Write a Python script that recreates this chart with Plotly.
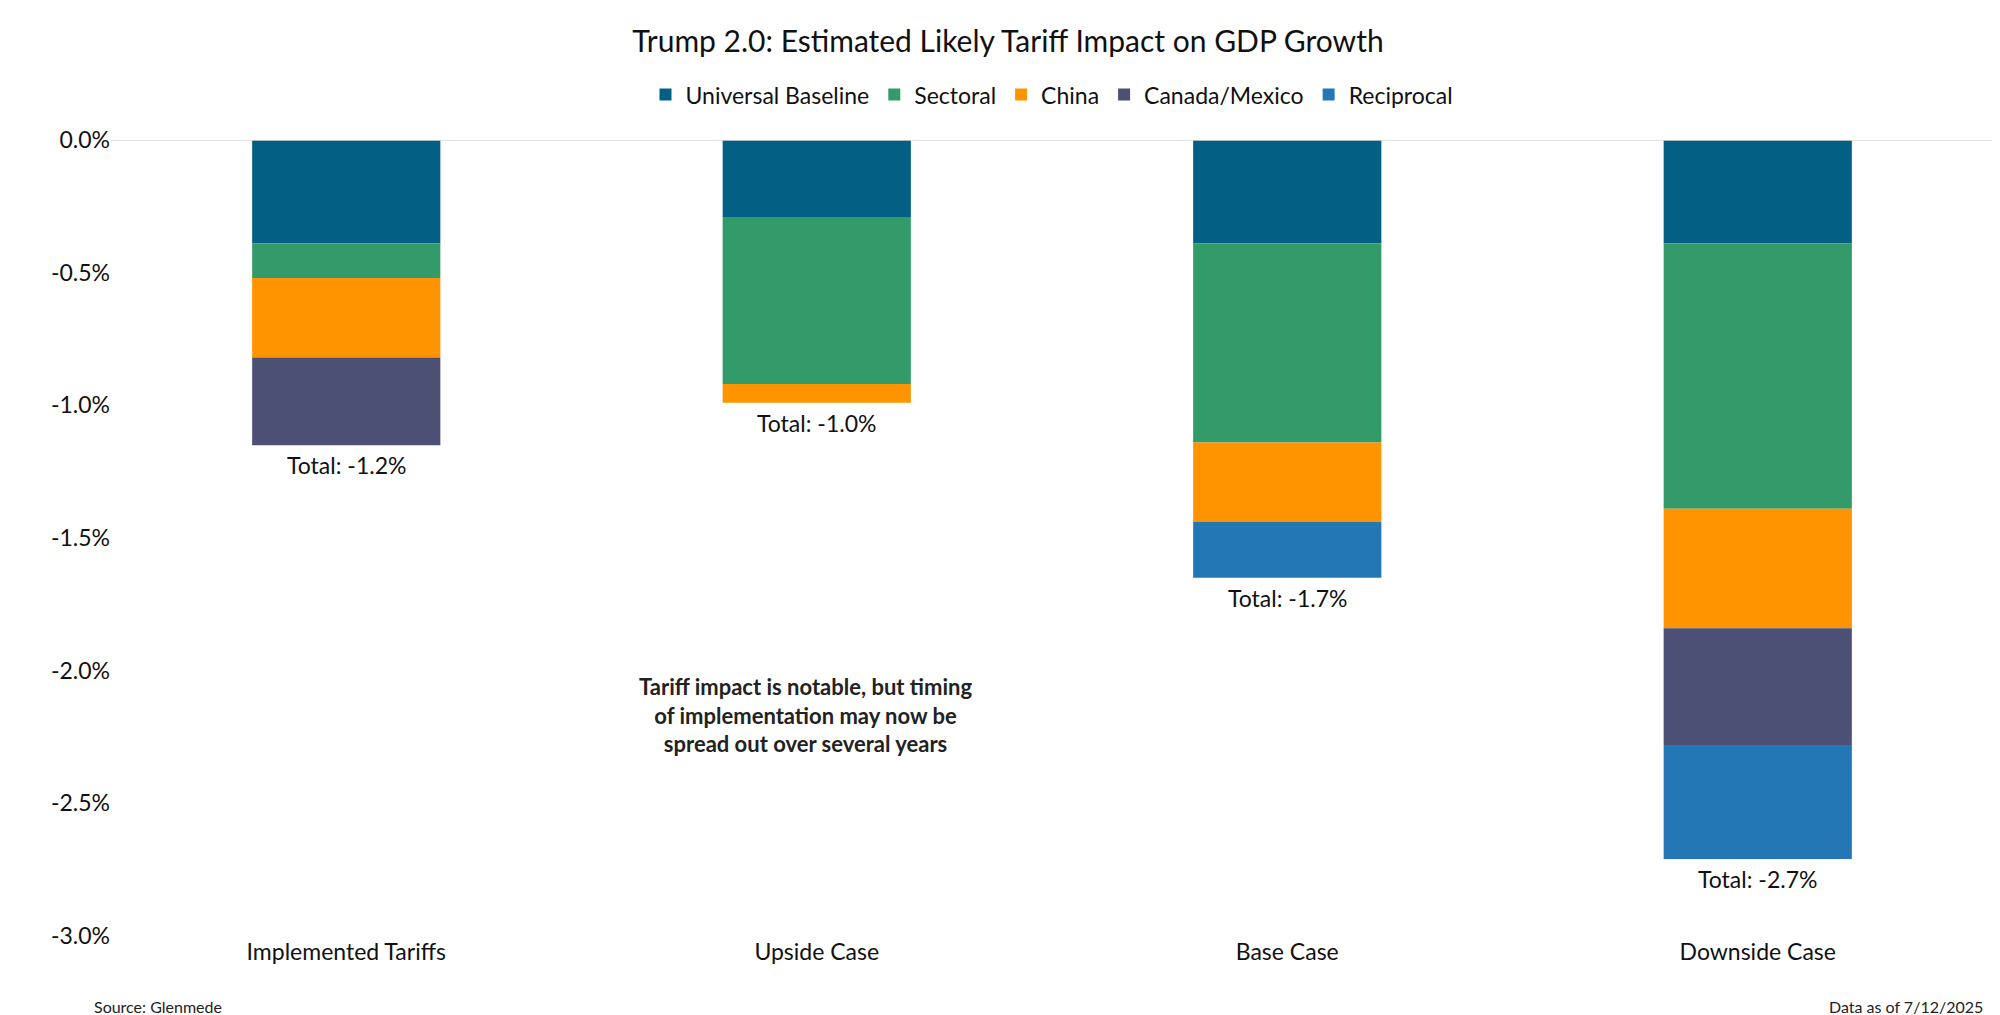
import plotly.graph_objects as go

cases = ["Implemented Tariffs", "Upside Case", "Base Case", "Downside Case"]
universal = [-0.39, -0.29, -0.39, -0.39]
sectoral = [-0.13, -0.63, -0.75, -1.00]
china = [-0.30, -0.07, -0.30, -0.45]
can_mex = [-0.33, 0.0, 0.0, -0.44]
reciprocal = [0.0, 0.0, -0.21, -0.43]
totals = [-1.2, -1.0, -1.7, -2.7]
y_ticks = [0.0, -0.5, -1.0, -1.5, -2.0, -2.5, -3.0]

series = [
    ("Universal Baseline", universal, "#045f85"),
    ("Sectoral", sectoral, "#339b69"),
    ("China", china, "#ff9300"),
    ("Canada/Mexico", can_mex, "#4d5075"),
    ("Reciprocal", reciprocal, "#2477b5"),
]

fig = go.Figure()
for name, vals, col in series:
    fig.add_trace(go.Bar(x=cases, y=vals, name=name, marker_color=col,
                         marker_line_width=0, width=0.4))

# total labels under each bar
for n, (c, t) in enumerate(zip(cases, totals)):
    bottom = sum(s[1][n] for s in series)
    fig.add_annotation(x=c, y=bottom, text=f"Total: {t:.1f}%", showarrow=False,
                       yanchor="top", yshift=-4, font=dict(size=23, color="#111"))

fig.add_annotation(xref="paper", yref="paper", x=0.369, y=0.222,
                   text="<b>Tariff impact is notable, but timing<br>of implementation may now be<br>spread out over several years</b>",
                   showarrow=False, font=dict(size=22, color="#222"), align="center")
fig.add_annotation(xref="paper", yref="paper", x=-0.01, y=-0.089, xanchor="left",
                   yanchor="middle", text="Source: Glenmede", showarrow=False,
                   font=dict(size=16, color="#222"))
fig.add_annotation(xref="paper", yref="paper", x=0.996, y=-0.089, xanchor="right",
                   yanchor="middle", text="Data as of 7/12/2025", showarrow=False,
                   font=dict(size=16, color="#222"))

fig.update_layout(
    width=2000, height=1015, barmode="relative",
    font=dict(family="Lato, sans-serif", size=23, color="#111"),
    title=dict(text="Trump 2.0: Estimated Likely Tariff Impact on GDP Growth",
               x=0.5, xanchor="center", y=0.967, yanchor="middle", font=dict(size=30)),
    legend=dict(orientation="h", x=0.5, xanchor="center", y=1.057, yanchor="middle",
                font=dict(size=23), traceorder="normal"),
    plot_bgcolor="white", paper_bgcolor="white",
    margin=dict(l=103, r=15, t=132, b=87, autoexpand=False),
)
fig.update_yaxes(range=[-3.0, 0.0], tickvals=y_ticks,
                 ticktext=[f"{v:.1f}%" for v in y_ticks],
                 showgrid=False, zeroline=False, showline=False, automargin=False)
fig.update_xaxes(showline=False, ticks="", tickfont=dict(size=23), automargin=False)
fig.add_shape(type="line", xref="paper", yref="y", x0=0, x1=1, y0=0, y1=0,
              line=dict(color="#d9d9d9", width=1.5))

fig.write_html("out.html")
